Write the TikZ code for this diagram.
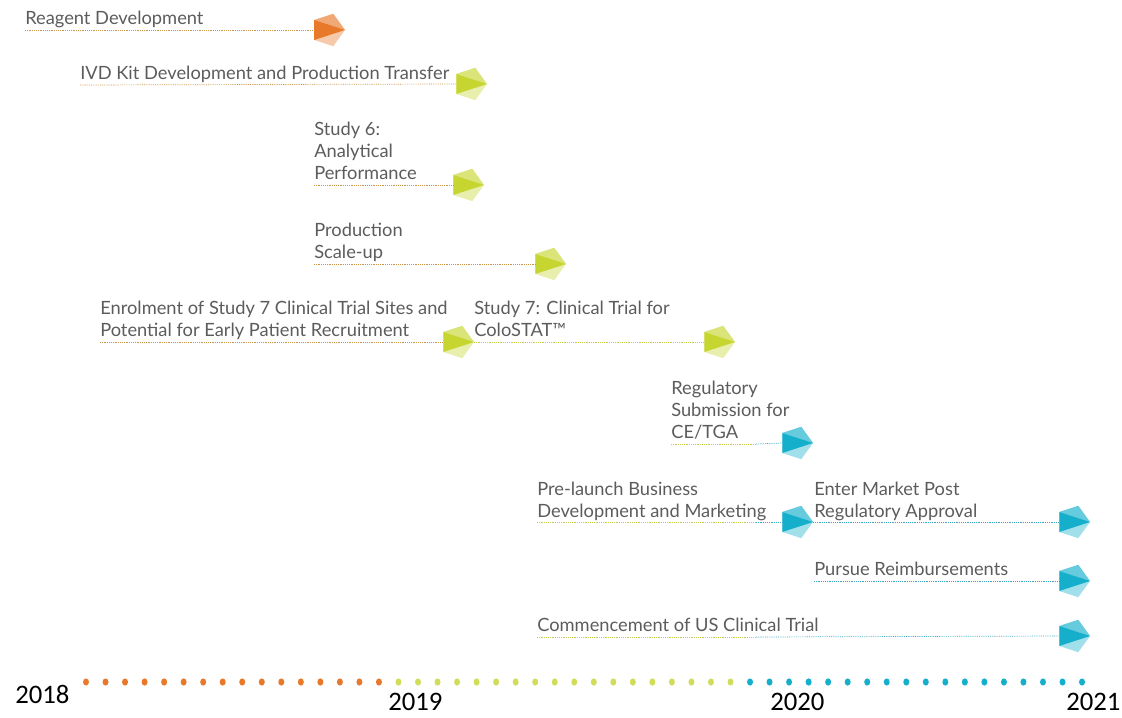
\documentclass[tikz,border=0pt]{standalone}
\usepackage{fontspec}
\setmainfont{Lato}
\newfontfamily\yearfont{Carlito}
\usepackage{tikz}
\usetikzlibrary{shapes.geometric}
\usetikzlibrary{positioning}
\definecolor{orangeM}{HTML}{E8792B}
\definecolor{greenM}{HTML}{C6D530}
\definecolor{blueM}{HTML}{15AFCC}
\definecolor{textgrey}{HTML}{5C5C5C}
\definecolor{lineT}{HTML}{C99445}
\definecolor{lineG}{HTML}{C4CC4E}
\definecolor{lineB}{HTML}{3AA8C2}
\tikzset{milestone/.style={regular polygon, regular polygon sides=5,
           shape border rotate=-90, minimum size=0.85cm, inner sep=0pt,
           outer sep=0pt, draw=none},
         lbl/.style={anchor=base west, inner sep=0pt, align=left,
           text=textgrey, font=\fontsize{13}{15.6}\selectfont},
         yr/.style={anchor=west, inner sep=0pt, font=\yearfont\fontsize{19}{19}\selectfont},
         tline/.style={draw=lineT, line width=0.5pt, dash pattern=on 0.6pt off 0.7pt},
         gline/.style={tline, draw=lineG},
         bline/.style={tline, draw=lineB}}
% pentagon marker: name, position, colour
\newcommand{\milestone}[3]{%
  \node[milestone, fill=#3!40] (#1) at (#2) {};
  \fill[#3!65] (#1.corner 1) -- (#1.corner 2) -- (#1.corner 3) -- cycle;
  \fill[#3] (#1.corner 1) -- (#1.corner 3) -- (#1.corner 4) -- cycle;}

\begin{document}
\begin{tikzpicture}[x=0.025cm, y=-0.025cm]
  \useasboundingbox (0,0) rectangle (1122,717);
  \coordinate (cut) at (756,0);

  % tasks
  \node[lbl] (reagent) at (25,24) {Reagent Development};
  \coordinate (reagent-s) at (25,30);
  \milestone{reagent-m}{328,30}{orangeM}
  \draw[tline] (reagent-s) -- (reagent-m.west);

  \node[lbl] (ivd) at (80,79) {IVD Kit Development and Production Transfer};
  \coordinate (ivd-s) at (80,85);
  \milestone{ivd-m}{470,84}{greenM}
  \draw[tline] (ivd-s) -- (ivd-m.west);

  \node[lbl] (study6) at (314,179) {Study 6:\\Analytical\\Performance};
  \coordinate (study6-s) at (314,185);
  \milestone{study6-m}{467,185}{greenM}
  \draw[tline] (study6-s) -- (study6-m.west);

  \node[lbl] (scaleup) at (314,258) {Production\\Scale-up};
  \coordinate (scaleup-s) at (314,264);
  \milestone{scaleup-m}{549,264}{greenM}
  \draw[tline] (scaleup-s) -- (scaleup-m.west);

  \node[lbl] (enrol) at (100,336) {Enrolment of Study 7 Clinical Trial Sites and\\Potential for Early Patient Recruitment};
  \coordinate (enrol-s) at (100,342);
  \milestone{enrol-m}{457,342}{greenM}
  \draw[tline] (enrol-s) -- (enrol-m.west);

  \node[lbl] (study7) at (474,336) {Study 7: Clinical Trial for\\ColoSTAT™};
  \milestone{study7-m}{718,342}{greenM}
  \draw[gline] (enrol-m.corner 1) -- (study7-m.west);

  \node[lbl] (regsub) at (671,438) {Regulatory\\Submission for\\CE/TGA};
  \coordinate (regsub-s) at (671,444);
  \milestone{regsub-m}{796,443}{blueM}
  \draw[gline] (regsub-s) -- (regsub-s -| cut);
  \draw[bline] (regsub-s -| cut) -- (regsub-m.west);

  \node[lbl] (prelaunch) at (537,517) {Pre-launch Business\\Development and Marketing};
  \coordinate (prelaunch-s) at (537,522);
  \milestone{prelaunch-m}{796,522}{blueM}
  \draw[gline] (prelaunch-s) -- (prelaunch-s -| cut);
  \draw[bline] (prelaunch-s -| cut) -- (prelaunch-m.west);

  \node[lbl] (market) at (814,517) {Enter Market Post\\Regulatory Approval};
  \milestone{market-m}{1073,522}{blueM}
  \draw[bline] (prelaunch-m.corner 1) -- (market-m.west);

  \node[lbl] (reimb) at (814,575) {Pursue Reimbursements};
  \coordinate (reimb-s) at (814,581);
  \milestone{reimb-m}{1073,581}{blueM}
  \draw[bline] (reimb-s) -- (reimb-m.west);

  \node[lbl] (ustrial) at (537,631) {Commencement of US Clinical Trial};
  \coordinate (ustrial-s) at (537,637);
  \milestone{ustrial-m}{1073,636}{blueM}
  \draw[gline] (ustrial-s) -- (ustrial-s -| cut);
  \draw[bline] (ustrial-s -| cut) -- (ustrial-m.west);

  % timeline
  \foreach \i in {0,...,51}{
    \ifnum\i<16 \def\dotcol{orangeM}\else
      \ifnum\i<34 \def\dotcol{greenM!80!white}\else\def\dotcol{blueM}\fi\fi
    \fill[\dotcol] ({86+19.53*\i},682) ellipse[x radius=3, y radius=3.6];
  }
  \node[yr] (y2018) at (15,694) {2018};
  \node[yr] (y2019) at (388,702) {2019};
  \node[yr] (y2020) at (770,702) {2020};
  \node[yr] (y2021) at (1066,702) {2021};
\end{tikzpicture}
\end{document}
